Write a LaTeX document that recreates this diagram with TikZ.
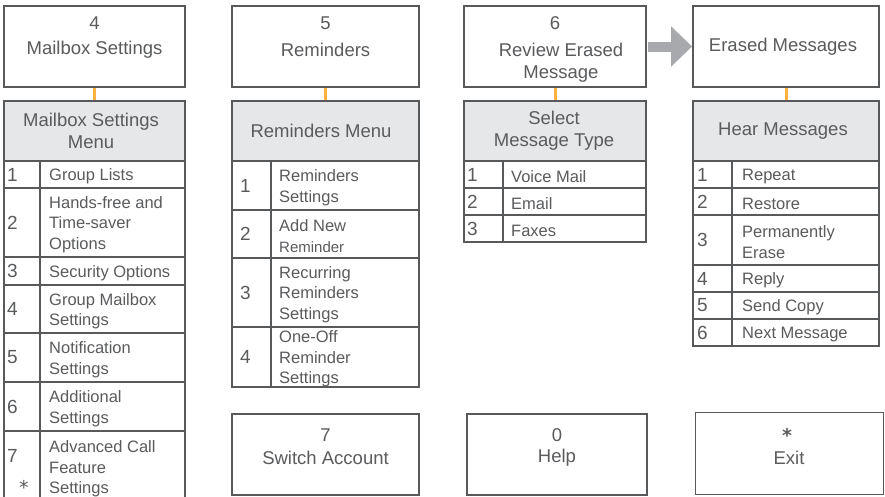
\documentclass[tikz,border=0pt]{standalone}
\usepackage{fontspec}
\setmainfont{Liberation Sans}
\newfontfamily\djv{DejaVu Sans}
\newfontfamily\djvb{DejaVu Sans Bold}
\usetikzlibrary{arrows.meta}
\definecolor{linec}{HTML}{58595B}
\definecolor{textc}{HTML}{5A5B5D}
\definecolor{headc}{HTML}{E6E7E8}
\definecolor{orangec}{HTML}{FBB040}
\definecolor{arrowc}{HTML}{A7A9AC}
\def\numoff{3}
\def\txtoff{9}
\def\txtshift{0}
\newcommand\trow[8]{%
  \draw[cell] (#2,#5) rectangle (#4,#6);
  \draw[cell] (#3,#5) -- (#3,#6);
  \node[num] (#1n) at ({#2+\numoff},{(#5+#6)/2}) {#7};
  \node[itm] (#1t) at ({#3+\txtoff},{(#5+#6)/2+\txtshift}) {#8};}
\begin{document}
\begin{tikzpicture}[x=1pt,y=-1pt,
  box/.style={draw=linec, line width=1.8pt, fill=white, inner sep=0pt},
  headbox/.style={draw=linec, line width=1.8pt, fill=headc, inner sep=0pt, minimum height=60pt},
  cell/.style={draw=linec, line width=1.8pt},
  txt/.style={text=textc, inner sep=0pt, align=center, font=\fontsize{18.5}{22}\selectfont},
  itm/.style={text=textc, inner sep=0pt, anchor=west, align=left, yshift=-2pt, font=\fontsize{16.5}{20.5}\selectfont},
  num/.style={text=textc, inner sep=0pt, anchor=west, font=\fontsize{19}{22}\selectfont},
  link/.style={draw=orangec, line width=3pt},
  bigarrow/.style={draw=arrowc, line width=10pt, -{Triangle[length=21pt,width=39pt]}}]
\fill[white] (0,0) rectangle (885,496);
\useasboundingbox (0,0) rectangle (885,496);

% top boxes
\node[box, minimum width=181pt, minimum height=81pt] (b4) at (94.5,46.5) {};
\node[box, minimum width=187pt, minimum height=81pt] (b5) at (325.5,46.5) {};
\node[box, minimum width=182pt, minimum height=81pt] (b6) at (555,46.5) {};
\node[box, minimum width=186pt, minimum height=81pt] (be) at (786,46.5) {};

% headers
\node[headbox, minimum width=181pt] (h4) at (94.5,131) {};
\node[headbox, minimum width=187pt] (h5) at (325.5,131) {};
\node[headbox, minimum width=182pt] (h6) at (555,131) {};
\node[headbox, minimum width=186pt] (he) at (786,131) {};

% connectors
\draw[link] (b4.south) -- (h4.north);
\draw[link] (b5.south) -- (h5.north);
\draw[link] (b6.south) -- (h6.north);
\draw[link] (be.south) -- (he.north);
\draw[bigarrow, shorten <=1pt] (b6.east) -- (be.west);

% top box texts
\node[txt] (n4) at (94.5,23) {4};
\node[txt] (l4) at (94.5,50) {Mailbox Settings};
\node[txt] (n5) at (325.5,23) {5};
\node[txt] (l5) at (325.5,50) {Reminders};
\node[txt] (n6) at (555,23) {6};
\node[txt] (l6) at (561,63) {Review Erased\\Message};
\node[txt] (le) at (783,47) {Erased Messages};

% header texts
\node[txt] (t4) at (91,131) {Mailbox Settings\\Menu};
\node[txt] (t5) at (321,131) {Reminders Menu};
\node[txt] (t6) at (554,130.5) {Select\\Message Type};
\node[txt] (te) at (783,131) {Hear Messages};

% column 1
\def\numoff{3}\def\txtoff{9}
\trow{a1}{4}{40}{185}{161}{188}{1}{Group Lists}
\trow{a2}{4}{40}{185}{188}{257}{2}{Hands-free and\\Time-saver\\Options}
\trow{a3}{4}{40}{185}{257}{285}{3}{Security Options}
\trow{a4}{4}{40}{185}{285}{333}{4}{Group Mailbox\\Settings}
\trow{a5}{4}{40}{185}{333}{382}{5}{Notification\\Settings}
\trow{a6}{4}{40}{185}{382}{431}{6}{Additional\\Settings}
\draw[cell] (4,431) rectangle (185,500);
\draw[cell] (40,431) -- (40,500);
\node[num] (a7n) at (7,456) {7};
\node[text=textc, inner sep=0pt, anchor=base, font=\djv\fontsize{19}{22}\selectfont] (a7s) at (24,494.5) {*};
\node[itm] (a7t) at (49,467) {Advanced Call\\Feature\\Settings};

% column 2
\def\numoff{8}\def\txtoff{8}
\trow{c1}{232}{271}{419}{161}{210}{1}{Reminders\\Settings}
\trow{c2}{232}{271}{419}{210}{258}{2}{Add New\\{\fontsize{15}{18}\selectfont Reminder}}
\trow{c3}{232}{271}{419}{258}{327}{3}{Recurring\\Reminders\\Settings}
\trow{c4}{232}{271}{419}{327}{387}{4}{\fontsize{16.5}{19.5}\selectfont One-Off\\Reminder\\Settings}

% column 3
\def\numoff{3}\def\txtoff{8}
\trow{d1}{464}{503}{646}{161}{188}{1}{Voice Mail}
\trow{d2}{464}{503}{646}{188}{215}{2}{Email}
\trow{d3}{464}{503}{646}{215}{242}{3}{Faxes}

% column 4
\def\numoff{4}\def\txtoff{10}
\trow{e1}{693}{732}{879}{161}{188}{1}{Repeat}
\trow{e2}{693}{732}{879}{188}{215}{2}{Restore}
\trow{e3}{693}{732}{879}{215}{265}{3}{Permanently\\Erase}
\trow{e4}{693}{732}{879}{265}{292}{4}{Reply}
\trow{e5}{693}{732}{879}{292}{319}{5}{Send Copy}
\trow{e6}{693}{732}{879}{319}{346}{6}{Next Message}

% bottom boxes
\node[box, minimum width=187pt, minimum height=81pt] (s7) at (325.5,454.5) {};
\node[box, minimum width=180pt, minimum height=81pt] (s0) at (557,454.5) {};
\node[box, draw=linec, line width=1pt, minimum width=188pt, minimum height=82pt] (sx) at (789,453) {};
\node[txt] (s7n) at (325.5,435) {7};
\node[txt] (s7l) at (325.5,458) {Switch Account};
\node[txt] (s0n) at (557,435) {0};
\node[txt] (s0l) at (557,458) {Help};
\node[text=textc, inner sep=0pt, anchor=base, font=\djvb\fontsize{19}{22}\selectfont] (sxn) at (787,442) {*};
\node[txt] (sxl) at (789,458) {Exit};
\end{tikzpicture}
\end{document}
